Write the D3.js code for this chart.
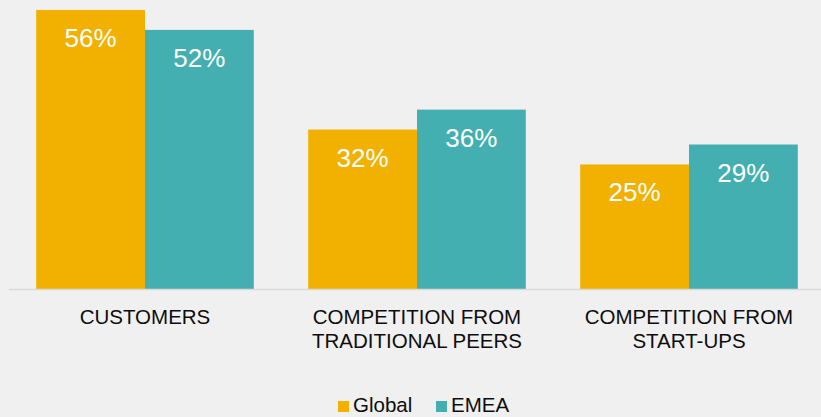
<!DOCTYPE html>
<html>
<head>
<meta charset="utf-8">
<script src="https://cdn.jsdelivr.net/npm/d3@7/dist/d3.min.js"></script>
<style>
  html, body { margin: 0; padding: 0; background: #f0f0f0; }
  svg { display: block; font-family: "Liberation Sans", Arial, sans-serif; }
</style>
</head>
<body>
<svg id="chart" width="821" height="417"></svg>
<script>
// Categories (each line of a label is a separate entry)
const categories = ["CUSTOMERS", "COMPETITION FROM TRADITIONAL PEERS", "COMPETITION FROM START-UPS"];
const categoryLines = [["CUSTOMERS"], ["COMPETITION FROM", "TRADITIONAL PEERS"], ["COMPETITION FROM", "START-UPS"]];
const seriesNames = ["Global", "EMEA"];
const globalValues = [56, 32, 25];
const emeaValues = [52, 36, 29];
const seriesColors = ["#f2b000", "#43afb0"];

const values = [globalValues, emeaValues];
const W = 821, H = 417;
const svg = d3.select("#chart");

const x = d3.scaleBand().domain(categories).range([9, 825]).paddingInner(0.2).paddingOuter(0.1);
const xs = d3.scaleBand().domain(seriesNames).range([0, x.bandwidth()]);
const y = d3.scaleLinear().domain([0, 58]).range([289, 0]);
const color = d3.scaleOrdinal().domain(seriesNames).range(seriesColors);

// Bars
const groups = svg.selectAll("g.cat").data(categories).join("g")
  .attr("class", "cat")
  .attr("transform", d => `translate(${x(d)},0)`);

groups.each(function(cat, ci) {
  const g = d3.select(this);
  const rows = seriesNames.map((s, si) => ({ s, v: values[si][ci] }));
  g.selectAll("rect").data(rows).join("rect")
    .attr("x", d => xs(d.s))
    .attr("y", d => y(d.v))
    .attr("width", xs.bandwidth())
    .attr("height", d => y(0) - y(d.v))
    .attr("fill", d => color(d.s));
  g.selectAll("text.val").data(rows).join("text")
    .attr("class", "val")
    .attr("x", d => xs(d.s) + xs.bandwidth() / 2)
    .attr("y", d => y(d.v) + 37)
    .attr("text-anchor", "middle")
    .attr("fill", "#ffffff")
    .attr("font-size", "26px")
    .text(d => d.v + "%");
});

// Baseline
svg.append("line")
  .attr("x1", 9).attr("x2", W)
  .attr("y1", y(0) + 0.5).attr("y2", y(0) + 0.5)
  .attr("stroke", "#d9d9d9").attr("stroke-width", 1.5);

// Category labels
categories.forEach((cat, ci) => {
  const t = svg.append("text")
    .attr("x", x(cat) + x.bandwidth() / 2)
    .attr("y", 324)
    .attr("text-anchor", "middle")
    .attr("fill", "#0d0d0d")
    .attr("font-size", "20.5px");
  categoryLines[ci].forEach((line, li) => {
    t.append("tspan")
      .attr("x", x(cat) + x.bandwidth() / 2)
      .attr("dy", li === 0 ? 0 : 24)
      .text(line);
  });
});

// Legend
const legendItems = [{ name: "Global", sx: 338 }, { name: "EMEA", sx: 436 }];
const legend = svg.append("g");
legendItems.forEach(item => {
  legend.append("rect")
    .attr("x", item.sx).attr("y", 401)
    .attr("width", 11).attr("height", 11)
    .attr("fill", color(item.name));
  legend.append("text")
    .attr("x", item.sx + 15).attr("y", 412)
    .attr("fill", "#0d0d0d")
    .attr("font-size", "20.5px")
    .text(item.name);
});
</script>
</body>
</html>
